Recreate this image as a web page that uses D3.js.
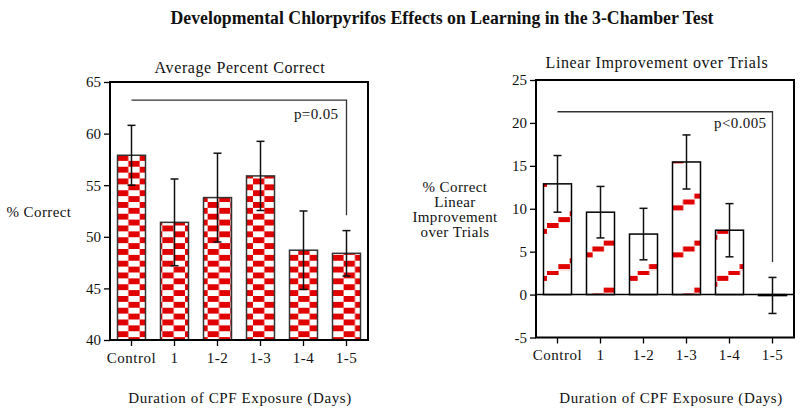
<!DOCTYPE html>
<html><head><meta charset="utf-8">
<script src="https://cdn.jsdelivr.net/npm/d3@7"></script>
<style>body{margin:0;background:#fff}svg{display:block}text{font-family:"Liberation Serif","Times New Roman",serif;fill:#111}</style>
</head><body><svg id="c" width="800" height="412"></svg>
<script>
const categories = ["Control","1","1-2","1-3","1-4","1-5"];
const avgCorrect = [57.9, 51.4, 53.8, 55.9, 48.7, 48.4];
const avgSE      = [2.9, 4.2, 4.3, 3.35, 3.8, 2.2];
const linImprove = [12.9, 9.6, 7.05, 15.45, 7.5, -0.1];
const linSE      = [3.3, 3.0, 3.0, 3.15, 3.1, 2.1];
const avgTicks = [40,45,50,55,60,65];
const linTicks = [-5,0,5,10,15,20,25];
const avgBracket = {top:63.25, drop:52.1, label:"p=0.05"};
const linBracket = {top:21.3, drop:3.8, label:"p<0.005"};

const svg = d3.select("#c");
const defs = svg.append("defs");

// checker pattern for left chart
const cw = 11.33, ch = 5.875;
const chk = defs.append("pattern").attr("id","checker").attr("patternUnits","userSpaceOnUse")
  .attr("width",cw*2).attr("height",ch*2).attr("x",117).attr("y",155);
chk.append("rect").attr("width",cw*2).attr("height",ch*2).attr("fill","#fff");
chk.append("rect").attr("x",0).attr("y",0).attr("width",cw).attr("height",ch).attr("fill","#e00000");
chk.append("rect").attr("x",cw).attr("y",ch).attr("width",cw).attr("height",ch).attr("fill","#e00000");

// sparse staircase pattern for right chart
const sw = 11.333, sh = 47, nSteps = 8;
const st = defs.append("pattern").attr("id","stairs").attr("patternUnits","userSpaceOnUse")
  .attr("width",sw*nSteps).attr("height",sh).attr("x",547).attr("y",223);
st.append("rect").attr("width",sw*nSteps).attr("height",sh).attr("fill","#fff");
for(let i=0;i<nSteps;i++){
  const yy = ((sh - i*sh/nSteps) % sh);
  st.append("rect").attr("x",i*sw).attr("y",yy).attr("width",sw+0.3).attr("height",5).attr("fill","#e00000");
  if (yy+5>sh) st.append("rect").attr("x",i*sw).attr("y",yy-sh).attr("width",sw+0.3).attr("height",5).attr("fill","#e00000");
}

// main title
svg.append("text").attr("x",442).attr("y",24).attr("text-anchor","middle")
  .attr("font-weight","bold").attr("font-size",19)
  .attr("textLength",543).attr("lengthAdjust","spacingAndGlyphs")
  .text("Developmental Chlorpyrifos Effects on Learning in the 3-Chamber Test");

function panel(o){
  const g = svg.append("g");
  const x = d3.scaleBand().domain(categories).range([o.left,o.right]).paddingInner(0.349).paddingOuter(0.1745);
  const y = d3.scaleLinear().domain(o.domain).range([o.bottom,o.top]);
  const base = o.domain[0] < 0 ? 0 : o.domain[0];
  // bars
  g.selectAll("rect.bar").data(o.values).join("rect").attr("class","bar")
    .attr("x",(d,i)=>x(categories[i]))
    .attr("width",x.bandwidth())
    .attr("y",d=>y(Math.max(d,base)))
    .attr("height",d=>Math.max(1,Math.abs(y(d)-y(base))))
    .attr("fill",o.fill).attr("stroke",o.barStroke).attr("stroke-width",1.5);
  if(o.zeroLine){
    g.append("line").attr("x1",o.left).attr("x2",o.right).attr("y1",y(0)).attr("y2",y(0))
      .attr("stroke","#000").attr("stroke-width",1.5);
  }
  // error bars
  const eb = g.selectAll("g.eb").data(o.values).join("g").attr("class","eb")
    .attr("stroke","#111").attr("stroke-width",1.5);
  eb.append("line").attr("x1",(d,i)=>x(categories[i])+x.bandwidth()/2).attr("x2",(d,i)=>x(categories[i])+x.bandwidth()/2)
    .attr("y1",(d,i)=>y(d+o.se[i])).attr("y2",(d,i)=>y(d-o.se[i]));
  [1,-1].forEach(s=>{
    eb.append("line").attr("x1",(d,i)=>x(categories[i])+x.bandwidth()/2-4).attr("x2",(d,i)=>x(categories[i])+x.bandwidth()/2+4)
      .attr("y1",(d,i)=>y(d+s*o.se[i])).attr("y2",(d,i)=>y(d+s*o.se[i]));
  });
  // bracket
  const cx0 = x(categories[0])+x.bandwidth()/2, cx1 = x(categories[5])+x.bandwidth()/2;
  g.append("path").attr("d",`M${cx0},${y(o.bracket.top)}H${cx1}V${y(o.bracket.drop)}`)
    .attr("fill","none").attr("stroke","#333").attr("stroke-width",1.3);
  g.append("text").attr("x",cx1-o.pdx).attr("y",y(o.bracket.top)+o.pdy).attr("text-anchor","end")
    .attr("font-size",15).attr("letter-spacing",0.4).text(o.bracket.label);
  // frame
  g.append("rect").attr("x",o.left).attr("y",o.top).attr("width",o.right-o.left).attr("height",o.bottom-o.top)
    .attr("fill","none").attr("stroke","#000").attr("stroke-width",2);
  // axes
  const ya = g.append("g").attr("transform",`translate(${o.left},0)`)
    .call(d3.axisLeft(y).tickValues(o.ticks).tickSize(6).tickPadding(3).tickFormat(d=>String(d)));
  ya.select(".domain").remove();
  ya.selectAll("line").attr("stroke","#000").attr("stroke-width",1.3);
  ya.selectAll("text").attr("font-size",15).attr("font-family","Liberation Serif").attr("fill","#111");
  const xa = g.append("g").attr("transform",`translate(0,${o.bottom})`)
    .call(d3.axisBottom(x).tickSize(6).tickPadding(6));
  xa.select(".domain").remove();
  xa.selectAll("line").attr("stroke","#000").attr("stroke-width",1.3);
  xa.selectAll("text").attr("font-size",15).attr("font-family","Liberation Serif").attr("fill","#111").attr("letter-spacing",0.5);
  // titles
  g.append("text").attr("x",o.titleX).attr("y",o.titleY).attr("text-anchor","middle")
    .attr("font-size",16).attr("letter-spacing",0.6).text(o.title);
  g.append("text").attr("x",(o.left+o.right)/2 + o.xtDx).attr("y",403).attr("text-anchor","middle")
    .attr("font-size",15).attr("letter-spacing",0.6).text("Duration of CPF Exposure (Days)");
  o.ylabel.forEach((t,i)=>{
    g.append("text").attr("x",o.ylx).attr("y",o.yly+i*15.3).attr("text-anchor","middle")
      .attr("font-size",15).attr("letter-spacing",0.4).text(t);
  });
}

panel({left:110,right:368,top:82,bottom:340,domain:[40,65],ticks:avgTicks,values:avgCorrect,se:avgSE,
  fill:"url(#checker)",barStroke:"#333",zeroLine:false,bracket:avgBracket,pdx:8,pdy:19,
  title:"Average Percent Correct",titleX:240,titleY:72.5,xtDx:1,ylabel:["% Correct"],ylx:39,yly:216.5});
panel({left:536,right:794,top:80,bottom:337.5,domain:[-5,25],ticks:linTicks,values:linImprove,se:linSE,
  fill:"url(#stairs)",barStroke:"#000",zeroLine:true,bracket:linBracket,pdx:6,pdy:16.5,
  title:"Linear Improvement over Trials",titleX:657,titleY:68.3,xtDx:6,
  ylabel:["% Correct","Linear","Improvement","over Trials"],ylx:455,yly:191.5});
</script></body></html>
